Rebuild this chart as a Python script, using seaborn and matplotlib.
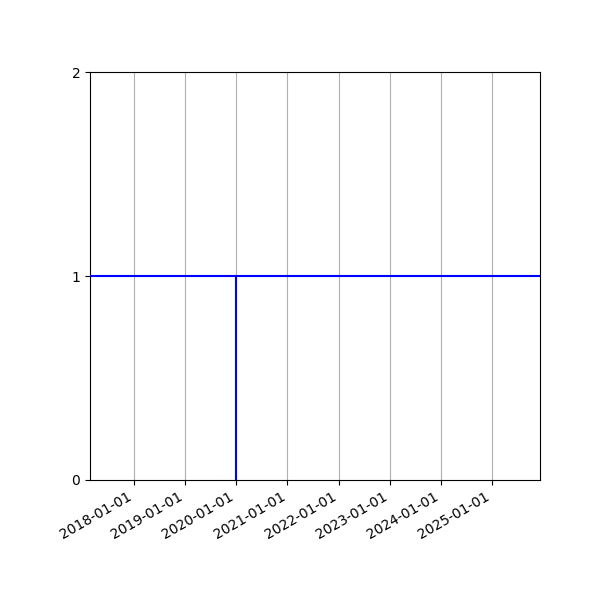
import matplotlib
matplotlib.use("Agg")
import matplotlib.pyplot as plt
import matplotlib.dates as mdates
import pandas as pd
import seaborn as sns

# horizontal level across the whole range, and the drop at the change date
level_dates = pd.to_datetime(["2017-02-21", "2025-12-10"])
level_values = [1, 1]
change_dates = pd.to_datetime(["2020-01-01", "2020-01-01"])
change_values = [0, 1]
x_limits = pd.to_datetime(["2017-02-21", "2025-12-10"])
y_ticks = [0, 1, 2]

fig, ax = plt.subplots(figsize=(6, 6), dpi=100)

sns.lineplot(x=level_dates, y=level_values, color="blue", estimator=None,
             ax=ax, zorder=3)
sns.lineplot(x=change_dates, y=change_values, color="blue", estimator=None,
             sort=False, ax=ax, zorder=3)

ax.set_xlim(x_limits[0], x_limits[1])
ax.set_ylim(0, 2)
ax.set_yticks(y_ticks)
ax.xaxis.set_major_locator(mdates.YearLocator())
ax.xaxis.set_major_formatter(mdates.DateFormatter("%Y-%m-%d"))
ax.grid(True, axis="x")
ax.set_axisbelow(True)
ax.set_xlabel("")
ax.set_ylabel("")
fig.autofmt_xdate()
fig.subplots_adjust(left=0.15, right=0.9, top=0.88, bottom=0.2)

fig.savefig("out.png", dpi=100)
